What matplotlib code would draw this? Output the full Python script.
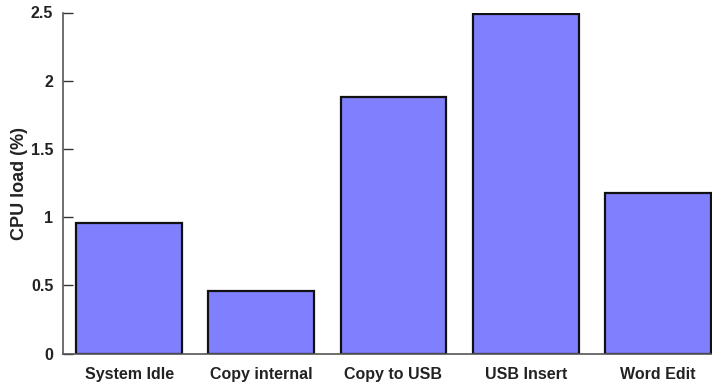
import numpy as np
import matplotlib.pyplot as plt
from matplotlib.ticker import FuncFormatter

plt.rcParams['font.family'] = ['Liberation Sans', 'DejaVu Sans']
plt.rcParams['font.weight'] = 'bold'

# CPU load per scenario
scenarios = ['System Idle', 'Copy internal', 'Copy to USB', 'USB Insert', 'Word Edit']
cpu_load = [0.96, 0.46, 1.88, 2.49, 1.18]

fig = plt.figure(figsize=(7.12, 3.85), dpi=100)
# axes runs a little past the right edge of the figure
ax = fig.add_axes([63 / 712, 31.5 / 385, 661 / 712, 341 / 385])

x = np.arange(len(scenarios))
ax.bar(x, cpu_load, width=0.8, color='#8080ff', edgecolor='#111111', linewidth=1.6)

ax.set_xlim(-0.5, len(scenarios) - 0.5)
ax.set_ylim(0, 2.5)
ax.set_yticks(np.arange(0, 2.51, 0.5))
ax.yaxis.set_major_formatter(FuncFormatter(lambda v, p: f'{v:g}'))
ax.set_xticks(x)
ax.set_xticklabels(scenarios)

for s in ['top', 'right']:
    ax.spines[s].set_visible(False)
for s in ['left', 'bottom']:
    ax.spines[s].set_color('#555555')
    ax.spines[s].set_linewidth(1.2)

ax.tick_params(axis='y', direction='in', length=7, width=1, color='#333333',
               labelsize=11.5, labelcolor='#222222', pad=7)
ax.tick_params(axis='x', length=0, labelsize=11.5, labelcolor='#222222', pad=10)
ax.set_ylabel('CPU load (%)', fontsize=13, fontweight='bold', color='#222222', labelpad=2)

fig.savefig('out.png', dpi=100)
